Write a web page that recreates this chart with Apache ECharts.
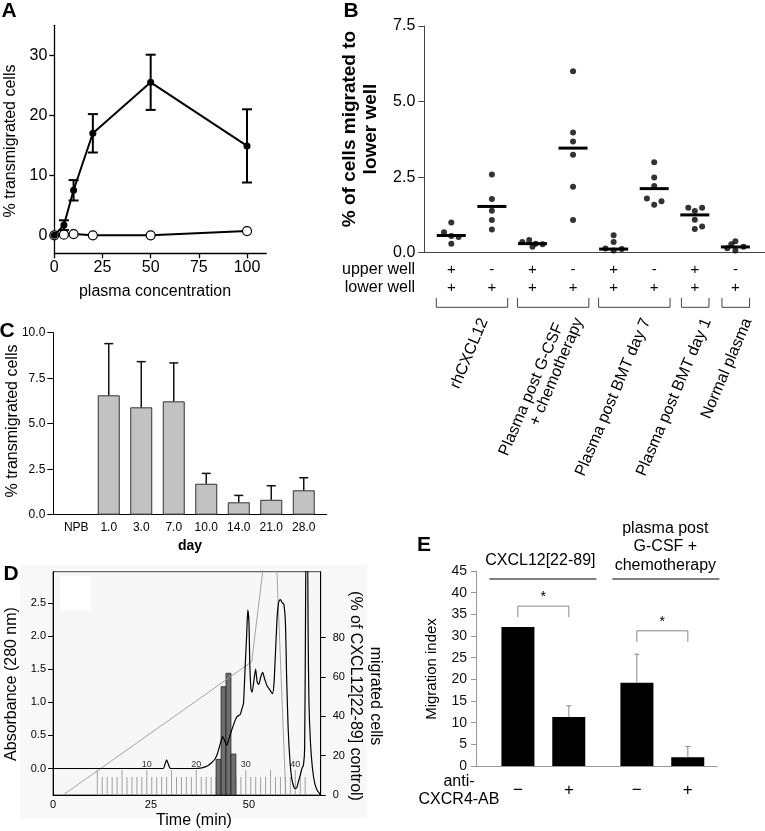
<!DOCTYPE html>
<html><head><meta charset="utf-8">
<script src="https://cdn.jsdelivr.net/npm/echarts@6/dist/echarts.min.js"></script>
<style>html,body{margin:0;padding:0;background:#fff}#c{width:765px;height:831px}</style>
</head><body><div id="c"></div><script>
// ---------- Panel A ----------
const aConc = [0, 5, 10, 20, 50, 100];
const aPlasma = [0, 1.7, 7.5, 17.0, 25.5, 14.9];
const aPlasmaErr = [0, 0.8, 1.7, 3.2, 4.6, 6.1];
const aControl = [0, 0.1, 0.2, 0.0, 0.0, 0.7];
const aTicksX = [0, 25, 50, 75, 100];
const aTicksY = [0, 10, 20, 30];

// ---------- Panel B ----------
const bUpper = ['+', '-', '+', '-', '+', '-', '+', '-'];
const bLower = ['+', '+', '+', '+', '+', '+', '+', '+'];
const bValues = [
  [1.00, 0.68, 0.55, 0.52, 0.30],
  [2.59, 1.78, 1.39, 1.08, 0.77],
  [0.42, 0.35, 0.30, 0.28, 0.20],
  [6.00, 3.98, 3.68, 3.24, 2.18, 1.08],
  [0.58, 0.35, 0.14, 0.07, 0.12],
  [2.99, 2.49, 2.21, 1.79, 1.59, 1.70],
  [1.49, 1.38, 1.49, 1.09, 0.78, 0.87],
  [0.38, 0.28, 0.20, 0.15, 0.07]
];
const bJitter = [
  [0, -0.18, 0, 0.18, 0],
  [0, 0, 0, 0, 0],
  [-0.08, -0.25, 0.08, 0.25, 0],
  [0, 0, 0, 0, 0, 0],
  [0, 0, -0.2, 0, 0.2],
  [0, 0, 0, -0.18, 0, 0.18],
  [-0.16, 0, 0.18, 0, 0, 0.18],
  [0, -0.1, 0.2, -0.2, 0]
];
const bCenter = [0.57, 1.53, 0.30, 3.46, 0.12, 2.12, 1.25, 0.19];
const bGroupLabels = [['rhCXCL12'], ['Plasma post G-CSF', '+ chemotherapy'], ['Plasma post BMT day 7'], ['Plasma post BMT day 1'], ['Normal plasma']];
const bGroupSpan = [[0, 1], [2, 3], [4, 5], [6, 6], [7, 7]];
const bTicksY = [0, 2.5, 5, 7.5];

// ---------- Panel C ----------
const cDays = ['NPB', '1.0', '3.0', '7.0', '10.0', '14.0', '21.0', '28.0'];
const cMean = [null, 6.56, 5.90, 6.23, 1.70, 0.68, 0.82, 1.34];
const cErr = [null, 2.84, 2.51, 2.11, 0.57, 0.38, 0.77, 0.69];

// ---------- Panel D ----------
const dTime = [0, 28.1, 28.6, 29.0, 29.4, 30.0, 36.0, 38.0, 39.5, 40.5, 41.3, 42.0, 42.7, 43.3, 43.8, 44.3, 44.9, 45.6, 46.3, 46.9, 47.4, 47.8, 48.2, 48.6, 49.0, 49.4, 49.7, 50.0, 50.2, 50.5, 50.8, 51.3, 51.7, 52.1, 52.5, 53.0, 53.5, 54.0, 54.6, 55.4, 56.0, 56.4, 56.8, 57.2, 57.6, 58.0, 58.5, 58.9, 59.3, 59.6, 60.0, 60.5, 61.0, 61.7, 62.2, 62.6, 63.0, 63.5, 63.9, 64.2, 64.4, 64.6, 64.9, 65.1, 65.3, 65.7, 66.2, 66.8, 67.4, 67.9, 68.3];
const dAbsorbance = [0, 0, 0.07, 0.13, 0.07, 0, 0, 0.01, 0.04, 0.09, 0.14, 0.23, 0.38, 0.48, 0.42, 0.35, 0.45, 0.58, 0.70, 0.78, 0.80, 0.82, 0.90, 0.98, 1.5, 2.0, 2.39, 2.2, 1.6, 1.2, 1.15, 1.35, 1.5, 1.3, 1.27, 1.38, 1.45, 1.35, 1.25, 1.18, 1.13, 1.3, 1.8, 2.3, 2.52, 2.55, 2.5, 2.48, 2.2, 1.4, 0.6, 0.08, -0.18, -0.3, -0.29, -0.2, -0.12, 0.0, 0.05, 0.3, 2.0, 3.5, 3.5, 2.0, 1.0, 0.38, 0.0, -0.23, -0.33, -0.37, -0.4];
const dGradTime = [2.6, 50.7, 54.5, 56.8, 59.4];
const dGradPct = [0, 67.7, 130, 130, 0];
const dFractions = [0,1,2,3,4,5,6,7,8,9,10,11,12,13,14,15,16,17,18,19,20,21,22,23,24,25,26,27,28,29,30,31,32,33,34,35,36,37,38,39,40,41,42];
const dFractionLabels = [10, 20, 30, 40];
const dActiveFractions = [25, 26, 27, 28];
const dActivity = [18.1, 55.0, 61.8, 20.8];
const dFracStart = 11.3;   // min, fraction 0
const dFracWidth = 1.263;  // min per fraction
const dTicksLeft = [0, 0.5, 1.0, 1.5, 2.0, 2.5];
const dTicksRight = [0, 20, 40, 60, 80];
const dTicksX = [0, 25, 50];

// ---------- Panel E ----------
const eMinus = [32.1, 19.2];
const eMinusErr = [0, 6.6];
const ePlus = [11.3, 2.0];
const ePlusErr = [2.6, 2.5];
const eSigLevel = [36.9, 31.2];

const FF = 'Liberation Sans, Arial, Helvetica, sans-serif';
const chart = echarts.init(document.getElementById('c'), null, {width: 765, height: 831});
const fracTime = f => dFracStart + f * dFracWidth;

function lbl(size, extra) { return Object.assign({fontSize: size, color: '#000', fontFamily: FF}, extra || {}); }
function errRender(capHalf, color, width, upOnly, offset) {
  return function (params, api) {
    const x = api.value(0), v = api.value(1), e = api.value(2);
    if (!e) return null;
    const c = api.coord([x, v]); const hi = api.coord([x, v + e]); const lo = api.coord([x, v - e]);
    const cx = c[0] + (offset || 0);
    const st = {stroke: color, lineWidth: width};
    const ch = [
      {type: 'line', shape: {x1: cx, y1: upOnly ? c[1] : lo[1], x2: cx, y2: hi[1]}, style: st},
      {type: 'line', shape: {x1: cx - capHalf, y1: hi[1], x2: cx + capHalf, y2: hi[1]}, style: st}
    ];
    if (!upOnly) ch.push({type: 'line', shape: {x1: cx - capHalf, y1: lo[1], x2: cx + capHalf, y2: lo[1]}, style: st});
    return {type: 'group', children: ch};
  };
}

const bScatter = [];
bValues.forEach((arr, i) => arr.forEach((v, j) => bScatter.push([i + bJitter[i][j], v])));

const option = {
  backgroundColor: '#fff',
  animation: false,
  grid: [
    {left: 54.3, top: 25.3, width: 212, height: 228},
    {left: 424.3, top: 26, width: 340.7, height: 226.7},
    {left: 53.3, top: 332.7, width: 273.4, height: 182},
    {left: 53, top: 571.7, width: 267.7, height: 223.3, show: true, backgroundColor: '#f7f7f7', borderColor: '#444', borderWidth: 1},
    {left: 476, top: 571, width: 241.3, height: 195}
  ],
  xAxis: [
    {gridIndex: 0, type: 'value', min: 0, max: 110, splitLine: {show: false},
      axisLine: {onZero: false, lineStyle: {color: '#000', width: 1.3}},
      axisTick: {customValues: aTicksX, length: 5, lineStyle: {color: '#000', width: 1.3}},
      axisLabel: lbl(16, {customValues: aTicksX, margin: 6})},
    {gridIndex: 1, type: 'value', min: -0.665, max: 7.73, splitLine: {show: false},
      axisLine: {onZero: false, lineStyle: {color: '#444', width: 1}}, axisTick: {show: false}, axisLabel: {show: false}},
    {gridIndex: 2, type: 'value', min: -0.706, max: 7.706, splitLine: {show: false},
      axisLine: {onZero: false, lineStyle: {color: '#000', width: 1}}, axisTick: {show: false},
      axisLabel: lbl(12, {customValues: [0, 1, 2, 3, 4, 5, 6, 7], margin: 7, formatter: v => cDays[Math.round(v)]})},
    {gridIndex: 3, type: 'value', min: 0, max: 68.3, splitLine: {show: false},
      axisLine: {onZero: false, lineStyle: {color: '#000', width: 1}}, axisTick: {show: false},
      axisLabel: lbl(11, {customValues: dTicksX, margin: 4})},
    {gridIndex: 4, type: 'value', min: -0.566, max: 1.462, splitLine: {show: false},
      axisLine: {onZero: false, lineStyle: {color: '#999', width: 1}}, axisTick: {show: false}, axisLabel: {show: false}}
  ],
  yAxis: [
    {gridIndex: 0, type: 'value', min: -3, max: 35, splitLine: {show: false},
      axisLine: {onZero: false, lineStyle: {color: '#000', width: 1.3}},
      axisTick: {customValues: aTicksY, length: 5, lineStyle: {color: '#000', width: 1.3}},
      axisLabel: lbl(16, {customValues: aTicksY, margin: 7})},
    {gridIndex: 1, type: 'value', min: 0, max: 7.5, interval: 2.5, splitLine: {show: false},
      axisLine: {onZero: false, lineStyle: {color: '#444', width: 1}},
      axisTick: {length: 6, lineStyle: {color: '#444'}},
      axisLabel: lbl(16, {margin: 9, formatter: v => v.toFixed(1)})},
    {gridIndex: 2, type: 'value', min: 0, max: 10, interval: 2.5, splitLine: {show: false},
      axisLine: {onZero: false, lineStyle: {color: '#000', width: 1}},
      axisTick: {length: 6, lineStyle: {color: '#000'}},
      axisLabel: lbl(12, {margin: 8, formatter: v => v.toFixed(1)})},
    {gridIndex: 3, type: 'value', min: -0.4, max: 2.97, splitLine: {show: false},
      axisLine: {onZero: false, lineStyle: {color: '#000', width: 1}},
      axisTick: {customValues: dTicksLeft, length: 5, lineStyle: {color: '#000'}},
      axisLabel: lbl(11, {customValues: dTicksLeft, margin: 7, formatter: v => v.toFixed(1)})},
    {gridIndex: 3, type: 'value', position: 'right', min: 0, max: 113.4, splitLine: {show: false},
      axisLine: {onZero: false, lineStyle: {color: '#000', width: 1}},
      axisTick: {customValues: dTicksRight, length: 5, lineStyle: {color: '#000'}},
      axisLabel: lbl(11, {customValues: dTicksRight, margin: 12})},
    {gridIndex: 4, type: 'value', min: 0, max: 45, interval: 5, splitLine: {show: false},
      axisLine: {onZero: false, lineStyle: {color: '#999', width: 1}},
      axisTick: {length: 5, lineStyle: {color: '#999'}},
      axisLabel: lbl(14, {margin: 9, color: '#111'})}
  ],
  series: [
    // A
    {type: 'custom', xAxisIndex: 0, yAxisIndex: 0, silent: true, z: 3,
      data: aConc.map((c, i) => [c, aPlasma[i], aPlasmaErr[i]]),
      renderItem: errRender(5, '#000', 2, false, 0)},
    {type: 'line', xAxisIndex: 0, yAxisIndex: 0, z: 4, data: aConc.map((c, i) => [c, aControl[i]]),
      symbol: 'circle', symbolSize: 9, lineStyle: {color: '#000', width: 2},
      itemStyle: {color: '#fff', borderColor: '#000', borderWidth: 1.2}},
    {type: 'line', xAxisIndex: 0, yAxisIndex: 0, z: 5, data: aConc.map((c, i) => [c, aPlasma[i]]),
      symbol: 'circle', symbolSize: 7, lineStyle: {color: '#000', width: 2},
      itemStyle: {color: '#000', borderColor: '#000', borderWidth: 0}},
    // B
    {type: 'scatter', xAxisIndex: 1, yAxisIndex: 1, data: bScatter, symbolSize: 6,
      itemStyle: {color: '#000'}},
    {type: 'custom', xAxisIndex: 1, yAxisIndex: 1, silent: true,
      data: bCenter.map((v, i) => [i, v]),
      renderItem: function (params, api) {
        const p = api.coord([api.value(0), api.value(1)]);
        return {type: 'line', shape: {x1: p[0] - 14.5, y1: p[1], x2: p[0] + 14.5, y2: p[1]}, style: {stroke: '#000', lineWidth: 3}};
      }},
    // C
    {type: 'bar', xAxisIndex: 2, yAxisIndex: 2, barWidth: 22,
      data: cMean.map((v, i) => [i, v]).filter(d => d[1] != null),
      itemStyle: {color: '#c2c2c2', borderColor: '#333', borderWidth: 1}},
    {type: 'custom', xAxisIndex: 2, yAxisIndex: 2, silent: true, z: 3,
      data: cMean.map((v, i) => [i, v, cErr[i]]).filter(d => d[1] != null),
      renderItem: errRender(4.5, '#111', 1.5, true, 0)},
    // D
    {type: 'custom', xAxisIndex: 3, yAxisIndex: 3, silent: true, z: 1,
      data: dFractions.map(f => [fracTime(f), f]),
      renderItem: function (params, api) {
        const x = api.coord([api.value(0), 0])[0];
        const bottom = params.coordSys.y + params.coordSys.height;
        const f = api.value(1);
        const len = (f % 5 === 0) ? 25 : 18;
        const ch = [{type: 'line', shape: {x1: x, y1: bottom, x2: x, y2: bottom - len}, style: {stroke: '#a0a0a0', lineWidth: 1}}];
        if (dFractionLabels.indexOf(f) >= 0) ch.push({type: 'text', x: x, y: bottom - len - 1,
          style: {text: String(f), fontSize: 9, fontFamily: FF, fill: '#333', align: 'center', verticalAlign: 'bottom'}});
        return {type: 'group', children: ch};
      }},
    {type: 'custom', xAxisIndex: 3, yAxisIndex: 4, silent: true, z: 2,
      data: dActiveFractions.map((f, i) => [fracTime(f - 1), fracTime(f), dActivity[i]]),
      renderItem: function (params, api) {
        const p0 = api.coord([api.value(0), 0]);
        const p1 = api.coord([api.value(1), api.value(2)]);
        return {type: 'rect', shape: {x: p0[0], y: p1[1], width: p1[0] - p0[0], height: p0[1] - p1[1]},
          style: {fill: '#6e6e6e', stroke: '#222', lineWidth: 0.8}};
      }},
    {type: 'line', xAxisIndex: 3, yAxisIndex: 4, z: 3, symbol: 'none', clip: true,
      data: dGradTime.map((t, i) => [t, dGradPct[i]]), lineStyle: {color: '#9a9a9a', width: 0.9}},
    {type: 'line', xAxisIndex: 3, yAxisIndex: 3, z: 4, symbol: 'none', clip: true, smooth: 0.2,
      data: dTime.map((t, i) => [t, dAbsorbance[i]]), lineStyle: {color: '#000', width: 1.2}},
    // E
    {type: 'bar', name: 'minus', xAxisIndex: 4, yAxisIndex: 5, barWidth: 33, barGap: '54%',
      data: eMinus.map((v, i) => [i, v]), itemStyle: {color: '#000'}},
    {type: 'bar', name: 'plus', xAxisIndex: 4, yAxisIndex: 5, barWidth: 33, barGap: '54%',
      data: ePlus.map((v, i) => [i, v]), itemStyle: {color: '#000'}},
    {type: 'custom', xAxisIndex: 4, yAxisIndex: 5, silent: true, z: 3,
      data: eMinus.map((v, i) => [i, v, eMinusErr[i]]),
      renderItem: errRender(2.5, '#888', 1, true, -25.5)},
    {type: 'custom', xAxisIndex: 4, yAxisIndex: 5, silent: true, z: 3,
      data: ePlus.map((v, i) => [i, v, ePlusErr[i]]),
      renderItem: errRender(2.5, '#888', 1, true, 25.5)}
  ]
};
chart.setOption(option);

// ---------- annotations ----------
const P = (xi, yi, x, y) => chart.convertToPixel({xAxisIndex: xi, yAxisIndex: yi}, [x, y]);
const G = [];
function txt(s, x, y, o) {
  o = o || {};
  G.push({type: 'text', x: x, y: y, rotation: o.rot || 0, z: 100, silent: true,
    style: {text: s, fontSize: o.size || 16, fontWeight: o.bold ? 'bold' : 'normal', fontFamily: FF,
      fill: o.color || '#000', align: o.align || 'center', verticalAlign: o.va || 'middle', lineHeight: o.lh}});
}
function pl(pts, o) {
  o = o || {};
  G.push({type: 'polyline', z: 100, silent: true, shape: {points: pts}, style: {stroke: o.color || '#000', lineWidth: o.w || 1, fill: null}});
}
const R90 = Math.PI / 2;

// D background area
G.push({type: 'rect', z: -10, silent: true, shape: {x: 20, y: 565, width: 347, height: 253}, style: {fill: '#f8f8f8'}});
G.push({type: 'rect', z: 100, silent: true, shape: {x: 60, y: 576, width: 31, height: 34}, style: {fill: '#ffffff'}});

// panel letters
txt('A', 9, 11, {size: 21, bold: true});
txt('B', 351, 11, {size: 21, bold: true});
txt('C', 7, 331, {size: 21, bold: true});
txt('D', 11, 574, {size: 21, bold: true});
txt('E', 424, 545, {size: 21, bold: true});

// A titles
txt('% transmigrated cells', 11, 141, {rot: R90});
txt('plasma concentration', 155, 292);

// B titles and rows
txt('% of cells migrated to\nlower well', 360, 129, {rot: R90, size: 19, bold: true, lh: 21});
txt('upper well', 415, 270, {align: 'right'});
txt('lower well', 415, 288, {align: 'right'});
bUpper.forEach((s, i) => { const p = P(1, 1, i, 0); txt(s, p[0], 270, {size: 15}); });
bLower.forEach((s, i) => { const p = P(1, 1, i, 0); txt(s, p[0], 288, {size: 15}); });
const rotL = 67 * Math.PI / 180;
bGroupSpan.forEach((sp, g) => {
  const single = sp[0] === sp[1];
  const x0 = P(1, 1, sp[0] - (single ? 0.33 : 0.37), 0)[0];
  const x1 = P(1, 1, sp[1] + (single ? 0.35 : 0.39), 0)[0];
  pl([[x0, 298], [x0, 307.3], [x1, 307.3], [x1, 298]], {color: '#444', w: 1});
  const cx = (x0 + x1) / 2;
  const lines = bGroupLabels[g];
  if (lines.length === 1) {
    txt(lines[0], cx + 12, 319, {rot: rotL, align: 'right'});
  } else {
    txt(lines[0], cx + 6, 324, {rot: rotL, align: 'right'});
    txt(lines[1], cx + 26, 319, {rot: rotL, align: 'right'});
  }
});

// C titles
txt('% transmigrated cells', 13, 421, {rot: R90});
txt('day', 190, 546, {size: 14, bold: true});

// D titles
txt('Absorbance (280 nm)', 12, 684, {rot: R90});
txt('migrated cells\n(% of CXCL12[22-89] control)', 365, 696, {rot: -R90, lh: 20});
txt('Time (min)', 194, 821);

// E
txt('Migration index', 432, 669, {rot: R90, size: 15});
const eC0 = P(4, 5, 0, 0), eC1 = P(4, 5, 1, 0);
txt('CXCL12[22-89]', eC0[0] - 3, 561);
txt('plasma post\nG-CSF +\nchemotherapy', eC1[0] + 3, 547, {lh: 18.5});
pl([[eC0[0] - 54, 579], [eC0[0] + 53, 579]], {w: 1.2});
pl([[eC1[0] - 50, 579], [eC1[0] + 57, 579]], {w: 1.2});
[0, 1].forEach(g => {
  const c = P(4, 5, g, eSigLevel[g]);
  const xa = c[0] - 25.5, xb = c[0] + 25.5;
  pl([[xa, c[1] + 11], [xa, c[1]], [xb, c[1]], [xb, c[1] + 11]], {color: '#888', w: 1});
  txt('*', c[0], c[1] - 9, {size: 14});
  txt('\u2212', xa, 790, {size: 17});
  txt('+', xb, 790, {size: 17});
});
txt('anti-\nCXCR4-AB', 459, 791, {lh: 18});

chart.setOption({graphic: G});
</script></body></html>
